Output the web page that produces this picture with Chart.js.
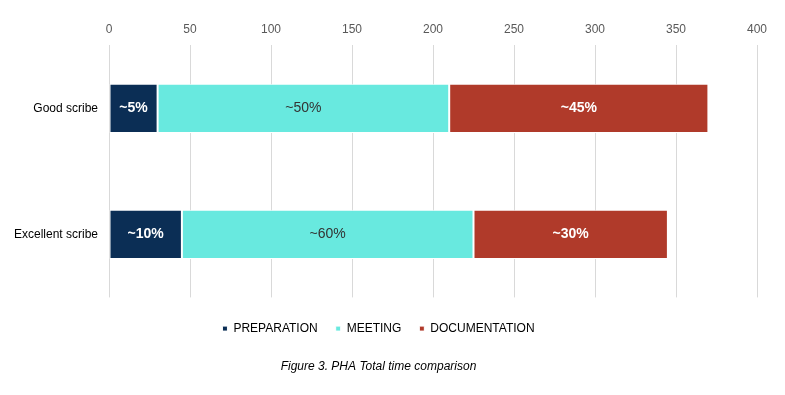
<!DOCTYPE html>
<html>
<head>
<meta charset="utf-8">
<script src="https://cdn.jsdelivr.net/npm/chart.js@4"></script>
<style>
  html, body { margin: 0; padding: 0; background: #fff; }
  #wrap { width: 785px; height: 395px; position: relative; }
</style>
</head>
<body>
<div id="wrap"><canvas id="chart"></canvas></div>
<script>
// data (minutes, approx)
const categories = ['Good scribe', 'Excellent scribe'];
const preparation = [30, 45];
const meeting = [180, 180];
const documentation = [160, 120];
const prepLabels = ['~5%', '~10%'];
const meetingLabels = ['~50%', '~60%'];
const docLabels = ['~45%', '~30%'];
const xTicks = [0, 50, 100, 150, 200, 250, 300, 350, 400];

const FONT = '"Liberation Sans Narrow", "Arial Narrow", "Liberation Sans", Arial, sans-serif';

// draw the ~% text in the middle of each segment
const segmentLabels = {
    id: 'segmentLabels',
    afterDatasetsDraw(chart) {
        const ctx = chart.ctx;
        chart.data.datasets.forEach((ds, i) => {
            const meta = chart.getDatasetMeta(i);
            meta.data.forEach((bar, j) => {
                const cx = (bar.x + bar.base) / 2;
                ctx.save();
                ctx.font = (ds.labelBold ? 'bold ' : '') + '14px ' + FONT;
                ctx.fillStyle = ds.labelColor;
                ctx.textAlign = 'center';
                ctx.textBaseline = 'middle';
                ctx.fillText(ds.segLabels[j], cx, bar.y);
                ctx.restore();
            });
        });
    }
};

const ctx = document.getElementById('chart').getContext('2d');
new Chart(ctx, {
    type: 'bar',
    data: {
        labels: categories,
        datasets: [{
            label: 'PREPARATION',
            data: preparation,
            backgroundColor: '#0b2e55',
            segLabels: prepLabels,
            labelColor: '#ffffff',
            labelBold: true
        }, {
            label: 'MEETING',
            data: meeting,
            backgroundColor: '#68e9df',
            segLabels: meetingLabels,
            labelColor: '#333333',
            labelBold: false
        }, {
            label: 'DOCUMENTATION',
            data: documentation,
            backgroundColor: '#b03a2a',
            segLabels: docLabels,
            labelColor: '#ffffff',
            labelBold: true
        }]
    },
    options: {
        indexAxis: 'y',
        responsive: true,
        maintainAspectRatio: false,
        animation: false,
        datasets: {
            bar: {
                categoryPercentage: 1,
                barPercentage: 0.39,
                borderColor: '#ffffff',
                borderWidth: 1,
                borderSkipped: false
            }
        },
        layout: { padding: { left: 0, right: 28, top: 13, bottom: 21 } },
        scales: {
            x: {
                position: 'top',
                stacked: true,
                min: 0,
                max: 400,
                afterBuildTicks: (axis) => { axis.ticks = xTicks.map(v => ({ value: v })); },
                grid: { color: '#d9d9d9', drawTicks: false },
                border: { display: false },
                ticks: {
                    padding: 9,
                    color: '#595959',
                    font: { family: FONT, size: 12 }
                }
            },
            y: {
                stacked: true,
                afterFit: (axis) => { axis.width = 109; },
                grid: { display: false, drawTicks: false },
                border: { display: false },
                ticks: {
                    padding: 11,
                    color: '#000000',
                    font: { family: FONT, size: 12 }
                }
            }
        },
        plugins: {
            legend: {
                position: 'bottom',
                title: { display: true, text: '', padding: { top: 6, bottom: 0 }, font: { size: 1 } },
                labels: {
                    usePointStyle: true,
                    pointStyle: 'rect',
                    boxWidth: 5,
                    boxHeight: 5,
                    padding: 18,
                    color: '#000000',
                    font: { family: FONT, size: 12 }
                }
            },
            title: {
                display: true,
                position: 'bottom',
                text: 'Figure 3. PHA Total time comparison',
                color: '#000000',
                padding: { top: 15, bottom: 0 },
                font: { family: FONT, size: 12, style: 'italic', weight: 'normal' }
            },
            tooltip: { enabled: false }
        }
    },
    plugins: [segmentLabels]
});
</script>
</body>
</html>
